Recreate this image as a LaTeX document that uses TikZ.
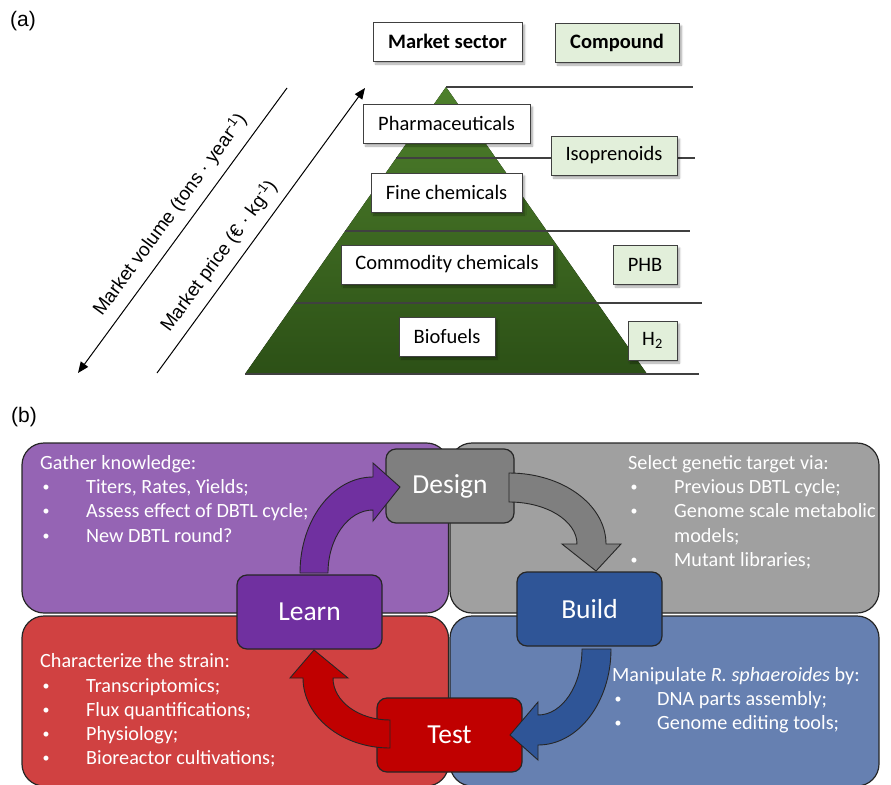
\documentclass[tikz,border=0pt]{standalone}
\usepackage{fontspec}
\setmainfont{Carlito}
\newfontfamily\arialfont{Liberation Sans}
\usetikzlibrary{arrows.meta,shadows.blur}

\definecolor{compgreen}{HTML}{E2EFDA}
\definecolor{pyrtop}{HTML}{4E802C}
\definecolor{pyrbot}{HTML}{2C5016}
\definecolor{edgegray}{HTML}{404040}
\definecolor{learnpanel}{HTML}{9564B4}
\definecolor{designpanel}{HTML}{A0A0A0}
\definecolor{testpanel}{HTML}{D04141}
\definecolor{buildpanel}{HTML}{6680B1}
\definecolor{learnc}{HTML}{7030A0}
\definecolor{designc}{HTML}{7F7F7F}
\definecolor{buildc}{HTML}{2F5597}
\definecolor{testc}{HTML}{C00000}

% small bullet followed by an indented item text
\newcommand{\bitem}[2][46pt]{\makebox[#1][l]{\hspace{2.5pt}\raisebox{1.6pt}{\fontsize{14}{14}\selectfont•}}#2}

\begin{document}
\begin{tikzpicture}[x=1pt,y=-1pt,
  sbox/.style={draw=black!75, line width=0.9pt, fill=white, minimum height=39pt,
    inner sep=0pt, font=\fontsize{20.5}{20.5}\selectfont,
    blur shadow={shadow xshift=2.5pt, shadow yshift=-3pt, shadow blur steps=6, shadow opacity=35}},
  cbox/.style={sbox, fill=compgreen},
  tierline/.style={draw=edgegray, line width=1.1pt},
  panel/.style={draw=black!85, line width=1.2pt, rounded corners=22pt},
  stage/.style={draw=black!85, line width=1.2pt, rounded corners=10pt, minimum width=145pt,
    minimum height=74pt, text=white, font=\fontsize{27.5}{27.5}\selectfont},
  cyclearrow/.style={draw=black!85, line width=0.9pt},
  ptxt/.style={anchor=base west, inner sep=0pt, text=white, font=\fontsize{20.2}{20.2}\selectfont},
  axisarrow/.style={-{Triangle[length=11pt,width=9pt]}, line width=1pt},
  axislabel/.style={font=\arialfont\fontsize{19}{19}\selectfont, rotate=53.7, inner sep=0pt},
  panellabel/.style={font=\arialfont\fontsize{21}{21}\selectfont, anchor=north west, inner sep=0pt},
]
\useasboundingbox (0,0) rectangle (891,784);
\clip (0,0) rectangle (891,784);

% ---------------- (a) market pyramid ----------------
\node[panellabel] (lbla) at (10,11) {(a)};

\fill[top color=pyrtop, bottom color=pyrbot] (446,87) -- (647,374) -- (245,374) -- cycle;

\draw[tierline] (446,87) -- (693,87);
\draw[tierline] (396,158) -- (695,158);
\draw[tierline] (345,231) -- (690,231);
\draw[tierline] (295,303) -- (702,303);
\draw[tierline] (245,374) -- (699,374);

\node[sbox, minimum width=149pt] (sector) at (447.5,41.5) {\textbf{Market sector}};
\node[cbox, minimum width=124pt] (compound) at (617,42.5) {\textbf{Compound}};

\node[sbox, minimum width=167pt] (pharma) at (446.5,123.5) {Pharmaceuticals};
\node[cbox, minimum width=126pt] (iso) at (614,155.5) {Isoprenoids};
\node[sbox, minimum width=151pt] (fine) at (446.5,192.5) {Fine chemicals};
\node[sbox, minimum width=212pt] (commodity) at (447,264.5) {Commodity chemicals};
\node[cbox, minimum width=64pt] (phb) at (645,264.5) {PHB};
\node[sbox, minimum width=96pt] (biofuels) at (447,336.5) {Biofuels};
\node[cbox, minimum width=49pt] (htwo) at (652.5,340.5) {H\textsubscript{2}};

% market volume / price axes
\coordinate (vtop) at (287,88);
\coordinate (vbot) at (78,373);
\coordinate (pbot) at (157,373);
\coordinate (ptop) at (365,88);
\draw[axisarrow] (vtop) -- (vbot);
\draw[axisarrow] (pbot) -- (ptop);
\node[axislabel] (vlabel) at (170,215) {Market volume (tons · year\textsuperscript{-1})};
\node[axislabel] (plabel) at (219,256) {Market price (€ · kg\textsuperscript{-1})};

% ---------------- (b) DBTL cycle ----------------
\node[panellabel] (lblb) at (11,407) {(b)};

\draw[panel, fill=learnpanel] (22,443) rectangle (448.5,613);
\draw[panel, fill=designpanel] (450,443) rectangle (879,613);
\draw[panel, fill=testpanel] (22,616) rectangle (448.5,786);
\draw[panel, fill=buildpanel] (450,616) rectangle (879,786);

\node[ptxt] (g0) at (40,469) {Gather knowledge:};
\node[ptxt] (g1) at (40,493) {\bitem{Titers, Rates, Yields;}};
\node[ptxt] (g2) at (40,517) {\bitem{Assess effect of DBTL cycle;}};
\node[ptxt] (g3) at (40,542) {\bitem{New DBTL round?}};

\node[ptxt] (s0) at (628,469) {Select genetic target via:};
\node[ptxt] (s1) at (628,493) {\bitem{Previous DBTL cycle;}};
\node[ptxt] (s2) at (628,517) {\bitem{Genome scale metabolic}};
\node[ptxt] (s3) at (674,542) {models;};
\node[ptxt] (s4) at (628,566) {\bitem{Mutant libraries;}};

\node[ptxt] (c0) at (40,667) {Characterize the strain:};
\node[ptxt] (c1) at (40,692) {\bitem{Transcriptomics;}};
\node[ptxt] (c2) at (40,716) {\bitem{Flux quantifications;}};
\node[ptxt] (c3) at (40,740) {\bitem{Physiology;}};
\node[ptxt] (c4) at (40,764) {\bitem{Bioreactor cultivations;}};

\node[ptxt] (m0) at (612,681) {Manipulate \textit{R. sphaeroides} by:};
\node[ptxt] (m1) at (612,705) {\bitem[45pt]{DNA parts assembly;}};
\node[ptxt] (m2) at (612,729) {\bitem[45pt]{Genome editing tools;}};

\node[stage, fill=designc, minimum width=128pt] (design) at (450,486) {Design};
\node[stage, fill=learnc] (learn) at (309.5,612) {Learn};
\node[stage, fill=buildc] (build) at (589.5,609) {Build};
\node[stage, fill=testc] (test) at (449.5,735) {Test};

% curved block arrows between the stages
\draw[cyclearrow, fill=learnc] (300,573) arc[start angle=180,end angle=270,x radius=73,y radius=96]
  -- (373,463) -- (400,487) -- (373,521) -- (373,510)
  arc[start angle=270,end angle=180,x radius=45,y radius=63] -- cycle;
\draw[cyclearrow, fill=designc] (509,473) arc[start angle=-90,end angle=0,x radius=97,y radius=71]
  -- (621,544) -- (596,571) -- (562,544) -- (577,544)
  arc[start angle=0,end angle=-90,x radius=68,y radius=42] -- cycle;
\draw[cyclearrow, fill=buildc] (611,649) arc[start angle=0,end angle=90,x radius=73,y radius=96]
  -- (538,760) -- (510,735) -- (538,702) -- (538,715)
  arc[start angle=90,end angle=0,x radius=44,y radius=66] -- cycle;
\draw[cyclearrow, fill=testc] (390,748) arc[start angle=90,end angle=180,x radius=87,y radius=70]
  -- (290,678) -- (314,650) -- (348,678) -- (333,678)
  arc[start angle=180,end angle=90,x radius=57,y radius=42] -- cycle;
\end{tikzpicture}
\end{document}
